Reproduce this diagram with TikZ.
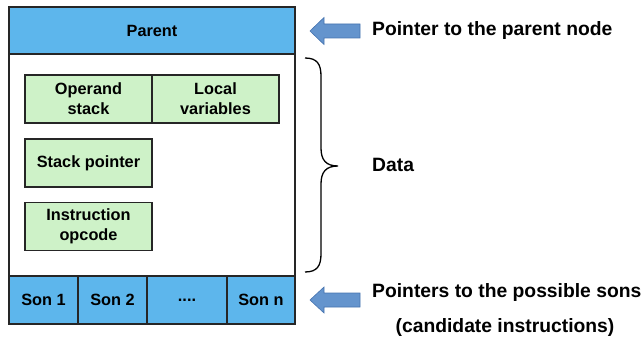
\documentclass[tikz,border=0pt]{standalone}
\usepackage{fontspec}
\setmainfont{Liberation Sans}
\definecolor{bandblue}{RGB}{93,182,236}
\definecolor{cellgreen}{RGB}{206,242,200}
\definecolor{ptrblue}{RGB}{100,148,205}
\definecolor{ptredge}{RGB}{70,115,175}

\begin{document}
\begin{tikzpicture}[x=1pt,y=-1pt,
	box/.style={draw=black!85, line width=1.3pt, inner sep=0pt, align=center, font=\fontsize{16.3}{20}\selectfont\bfseries},
	band/.style={box, fill=bandblue, minimum height=48pt},
	cell/.style={box, fill=cellgreen, minimum width=127pt, minimum height=48pt},
	label/.style={anchor=west, inner sep=0pt, font=\fontsize{19.3}{22}\selectfont\bfseries},
	ptr/.style={fill=ptrblue, draw=ptredge, line width=0.6pt, line join=miter}]
	
	\useasboundingbox (0,0) rectangle (641,345);
	
	% the node record
	\node[box, fill=white, minimum width=286pt, minimum height=317pt] (frame) at (152,165.5) {};
	\node[band, minimum width=286pt, minimum height=47pt] (parent) at (152,30.5) {Parent};
	
	\node[cell] (operand) at (88.5,99) {Operand\\stack};
	\node[cell] (locals) at (215.5,99) {Local\\variables};
	\node[cell] (stackptr) at (88.5,163) {Stack pointer};
	\node[cell] (opcode) at (88.5,226.5) {Instruction\\opcode};
	
	\node[band, minimum width=69pt] (son1) at (43.5,300) {Son 1};
	\node[band, minimum width=69pt] (son2) at (112.5,300) {Son 2};
	\node[band, minimum width=80pt] (dots) at (187,300) {....};
	\node[band, minimum width=68pt] (sonn) at (261,300) {Son n};
	
	% brace over the data part
	\draw[line width=1.3pt] (305,58) .. controls (317,58) and (321,64) .. (321,76) -- (321,148)
		.. controls (321,160) and (326,166) .. (338,166)
		.. controls (326,166) and (321,172) .. (321,184) -- (321,254)
		.. controls (321,266) and (317,272) .. (305,272);
	
	% pointer arrows
	\draw[ptr] (310,31) -- (324,17.5) -- (324,24) -- (360,24) -- (360,38) -- (324,38) -- (324,44.5) -- cycle;
	\draw[ptr] (310,300) -- (324,287) -- (324,293) -- (360,293) -- (360,307) -- (324,307) -- (324,313) -- cycle;
	
	\node[label] (ptrparent) at (372,31) {Pointer to the parent node};
	\node[label] (data) at (372,165) {Data};
	\node[label] (ptrsons) at (372,293) {Pointers to the possible sons};
	\node[label, anchor=center] (cand) at (505,328) {(candidate instructions)};
	
\end{tikzpicture}
\end{document}
